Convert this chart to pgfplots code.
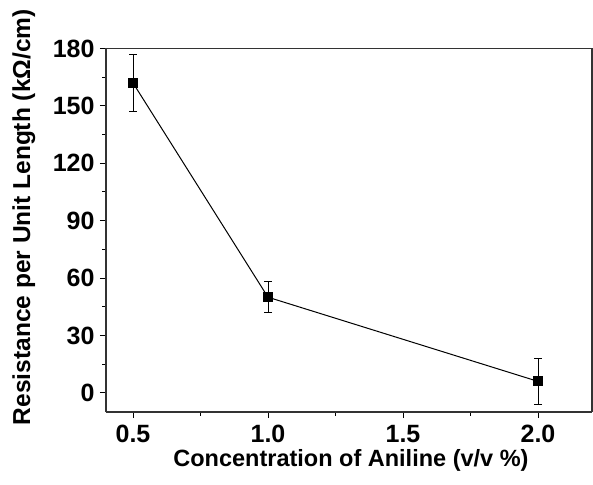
\documentclass[border=0pt]{standalone}
\usepackage{fontspec}
\setmainfont{Liberation Sans}
\usepackage{pgfplots}
\pgfplotsset{compat=1.18}

\begin{document}
\begin{tikzpicture}
\begin{axis}[
    scale only axis,
    width=486pt, height=363.5pt,
    xmin=0.4, xmax=2.2,
    ymin=-10, ymax=180,
    xtick={0.5,1.0,1.5,2.0},
    xticklabels={0.5,1.0,1.5,2.0},
    minor xtick={0.75,1.25,1.75},
    ytick={0,30,60,90,120,150,180},
    minor ytick={15,45,75,105,135,165},
    tick align=outside,
    major tick length=6pt,
    minor tick length=3.5pt,
    tick style={black, line width=1pt},
    axis line style={line width=1.3pt, black!80},
    axis x line*=bottom,
    axis y line*=left,
    every axis plot/.append style={line width=1pt},
    /pgf/number format/assume math mode=true,
    tick label style={font=\fontsize{25}{28}\selectfont\bfseries},
    xticklabel style={yshift=-4pt},
    yticklabel style={xshift=-2pt},
    xlabel={Concentration of Aniline (v/v \%)},
    ylabel={Resistance per Unit Length (kΩ/cm)},
    xlabel style={font=\fontsize{23.5}{26}\selectfont\bfseries,
        at={(axis description cs:0.504,-0.132)}, anchor=center},
    ylabel style={font=\fontsize{24.5}{27}\selectfont\bfseries,
        at={(axis description cs:-0.169,0.536)}, anchor=center},
    clip=false,
]
% frame top and right as in original
\draw[line width=1.3pt, black!80] (axis cs:0.4,180) -- (axis cs:2.2,180) -- (axis cs:2.2,-10);

\addplot[black, mark=square*, mark size=4.5pt,
    error bars/.cd, y dir=both, y explicit,
    error bar style={line width=1pt},
    error mark options={rotate=90, mark size=4pt, line width=1pt}]
  coordinates {
    (0.5,162) +- (0,15)
    (1.0,50) +- (0,8)
    (2.0,6) +- (0,12)
};
\end{axis}
\pgfresetboundingbox
\path (current axis.south west) ++(-106pt,-72pt) rectangle ++(593pt,484pt);
\end{tikzpicture}
\end{document}
